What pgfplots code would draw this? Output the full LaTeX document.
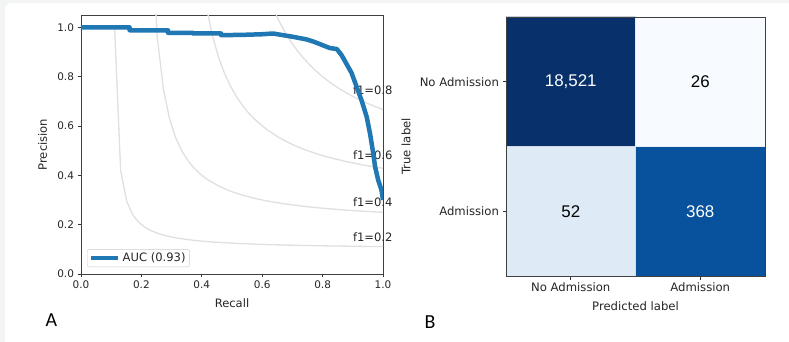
\documentclass[border=0pt]{standalone}
\usepackage{pgfplots}
\pgfplotsset{compat=1.18}
\usepackage{fontspec}
\setmainfont{DejaVu Sans}
\newfontfamily\cellfont{Liberation Sans}
\newfontfamily\panelfont{Carlito}
\definecolor{prblue}{RGB}{31,119,180}
\definecolor{bggrey}{RGB}{243,245,245}
\begin{document}
\begin{tikzpicture}
\path[use as bounding box] (0,0) rectangle (789bp,342bp);
\fill[bggrey] (0,0) rectangle (789bp,342bp);
\begin{scope}
\clip (0,0) rectangle (789bp,342bp);
\fill[white, rounded corners=6bp] (5bp,-20bp) rectangle (820bp,339bp);
\end{scope}

% ---------------- Panel A: precision-recall ----------------
\begin{axis}[
  at={(81bp,68bp)}, anchor=south west,
  scale only axis, width=302bp, height=259bp,
  xmin=0, xmax=1, ymin=0, ymax=1.05,
  xtick={0,0.2,0.4,0.6,0.8,1.0}, ytick={0,0.2,0.4,0.6,0.8,1.0},
  tick pos=left, tick align=outside, major tick length=3.5bp,
  tick style={black!80, line width=0.8bp},
  axis line style={black!75, line width=0.9bp},
  /pgf/number format/assume math mode=true,
  xticklabel style={/pgf/number format/fixed, /pgf/number format/fixed zerofill, /pgf/number format/precision=1},
  yticklabel style={/pgf/number format/fixed, /pgf/number format/fixed zerofill, /pgf/number format/precision=1},
  tick label style={font=\fontsize{10.5}{12}\selectfont, text=black!85},
  xlabel={Recall}, ylabel={Precision},
  label style={font=\fontsize{11.6}{13}\selectfont, text=black!85},
  xlabel style={at={(axis description cs:0.5,-0.111)}, anchor=center},
  ylabel style={at={(axis description cs:-0.127,0.5)}, anchor=center},
  clip mode=individual,
  legend cell align=left,
  legend style={at={(0.02,0.027)}, anchor=south west, draw=black!20, rounded corners=2bp,
    font=\fontsize{11.6}{13}\selectfont, text=black!85, inner xsep=2bp, inner ysep=1.5bp},
  legend image code/.code={\draw[#1] (0bp,0bp) -- (27bp,0bp);},
]
% iso-F1 curves
\addplot[black!12, line width=1.3bp, forget plot] coordinates {
(0.1110,1.0074) (0.1312,0.4203) (0.1514,0.2944) (0.1716,0.2396) (0.1918,0.2089) (0.2120,0.1893) (0.2322,0.1756) (0.2524,0.1656) (0.2727,0.1579) (0.2929,0.1519) (0.3131,0.1469) (0.3333,0.1429) (0.3737,0.1365) (0.4141,0.1318) (0.4545,0.1282) (0.5151,0.1241) (0.5757,0.1210) (0.6363,0.1186) (0.7171,0.1162) (0.8182,0.1139) (0.9192,0.1122) (1.0,0.1111)};
\addplot[black!12, line width=1.3bp, forget plot] coordinates {
(0.2120,3.522) (0.2322,1.4405) (0.2524,0.9626) (0.2727,0.7506) (0.2929,0.6308) (0.3131,0.5538) (0.3333,0.5002) (0.3535,0.4606) (0.3737,0.4303) (0.3939,0.4063) (0.4141,0.3868) (0.4545,0.3572) (0.4949,0.3356) (0.5353,0.3193) (0.5757,0.3065) (0.6161,0.2961) (0.6767,0.2839) (0.7373,0.2744) (0.7980,0.2669) (0.8586,0.2607) (0.9192,0.2556) (1.0,0.25)};
\addplot[black!12, line width=1.3bp, forget plot] coordinates {
(0.3131,7.191) (0.3333,3.0055) (0.3535,1.9832) (0.3737,1.5216) (0.3939,1.2587) (0.4141,1.0889) (0.4343,0.9702) (0.4545,0.8826) (0.4747,0.8152) (0.4949,0.7618) (0.5151,0.7184) (0.5353,0.6825) (0.5555,0.6522) (0.5757,0.6264) (0.6161,0.5847) (0.6565,0.5524) (0.6969,0.5267) (0.7373,0.5058) (0.7778,0.4884) (0.8182,0.4737) (0.8788,0.4555) (0.9394,0.4408) (1.0,0.4286)};
\addplot[black!12, line width=1.3bp, forget plot] coordinates {
(0.4141,11.762) (0.4343,5.0666) (0.4545,3.3363) (0.4747,2.5421) (0.4949,2.0860) (0.5151,1.7901) (0.5353,1.5825) (0.5555,1.4289) (0.5757,1.3106) (0.5959,1.2167) (0.6161,1.1403) (0.6363,1.0770) (0.6565,1.0237) (0.6767,0.9782) (0.6969,0.9388) (0.7171,0.9045) (0.7373,0.8743) (0.7576,0.8475) (0.7778,0.8236) (0.7980,0.8020) (0.8182,0.7826) (0.8384,0.7650) (0.8586,0.7489) (0.8788,0.7342) (0.8990,0.7206) (0.9192,0.7082) (0.9394,0.6966) (0.9596,0.6859) (0.9798,0.6760) (1.0,0.6667)};
\node[anchor=base west, inner sep=0pt, font=\fontsize{11.6}{13}\selectfont, text=black!85] at (axis cs:0.9,0.7282) {f1=0.8};
\node[anchor=base west, inner sep=0pt, font=\fontsize{11.6}{13}\selectfont, text=black!85] at (axis cs:0.9,0.4653) {f1=0.6};
\node[anchor=base west, inner sep=0pt, font=\fontsize{11.6}{13}\selectfont, text=black!85] at (axis cs:0.9,0.2756) {f1=0.4};
\node[anchor=base west, inner sep=0pt, font=\fontsize{11.6}{13}\selectfont, text=black!85] at (axis cs:0.9,0.1322) {f1=0.2};
% precision-recall curve
\addplot[prblue, line width=4.5bp, line join=round] coordinates {
(0,1.0) (0.161,1.0) (0.161,0.988) (0.288,0.988) (0.288,0.978) (0.371,0.978) (0.371,0.975) (0.464,0.975) (0.464,0.968) (0.55,0.970) (0.60,0.972) (0.636,0.975) (0.67,0.968) (0.70,0.962) (0.747,0.951) (0.77,0.942) (0.791,0.932) (0.824,0.916) (0.847,0.912) (0.863,0.887) (0.880,0.850) (0.896,0.815) (0.913,0.758) (0.929,0.704) (0.946,0.637) (0.957,0.570) (0.966,0.502) (0.974,0.434) (0.984,0.381) (0.995,0.340) (1.0,0.30)};
\addlegendentry{AUC (0.93)}
\end{axis}

% ---------------- Panel B: confusion matrix ----------------
\begin{axis}[
  at={(506bp,66bp)}, anchor=south west,
  scale only axis, width=259bp, height=259bp,
  xmin=-0.5, xmax=1.5, ymin=-0.5, ymax=1.5,
  xtick={0,1}, xticklabels={No Admission, Admission},
  ytick={0,1}, yticklabels={Admission, No Admission},
  tick pos=left, tick align=outside, major tick length=3.5bp,
  tick style={black!80, line width=0.8bp},
  axis line style={black!75, line width=0.9bp},
  tick label style={font=\fontsize{11.7}{13}\selectfont, text=black!85},
  xlabel={Predicted label}, ylabel={True label},
  label style={font=\fontsize{11.7}{13}\selectfont, text=black!85},
  xlabel style={at={(axis description cs:0.5,-0.116)}, anchor=center},
  ylabel style={at={(axis description cs:-0.386,0.5)}, anchor=center},
  colormap={cmblues}{rgb255=(247,251,255) rgb255=(222,235,247) rgb255=(198,219,239) rgb255=(158,202,225) rgb255=(107,174,214) rgb255=(66,146,198) rgb255=(33,113,181) rgb255=(8,81,156) rgb255=(8,48,107)},
  point meta min=0, point meta max=1,
  enlargelimits=false, axis on top,
]
% row-normalised shares: Admission row (y=0), No Admission row (y=1)
\addplot[matrix plot*, mesh/cols=2, point meta=explicit] coordinates {
(0,0) [0.1238] (1,0) [0.8762]
(0,1) [0.9986] (1,1) [0.0014]};
\draw[white, line width=0.7bp, opacity=0.7] (axis cs:0.5,-0.5) -- (axis cs:0.5,1.5);
\draw[white, line width=0.7bp, opacity=0.7] (axis cs:-0.5,0.5) -- (axis cs:1.5,0.5);
\addplot[only marks, mark=none, point meta=explicit symbolic, nodes near coords, nodes near coords align={center},
  every node near coord/.append style={font=\cellfont\fontsize{17}{19}\selectfont, text=white}]
  coordinates {(0,1) [{18,521}] (1,0) [368]};
\addplot[only marks, mark=none, point meta=explicit symbolic, nodes near coords, nodes near coords align={center},
  every node near coord/.append style={font=\cellfont\fontsize{17}{19}\selectfont, text=black}]
  coordinates {(1,1) [26] (0,0) [52]};
\end{axis}

\node[inner sep=0pt, font=\panelfont\fontsize{20}{22}\selectfont] at (51.5bp,22bp) {A};
\node[inner sep=0pt, font=\panelfont\fontsize{20}{22}\selectfont] at (430bp,20bp) {B};
\end{tikzpicture}
\end{document}
